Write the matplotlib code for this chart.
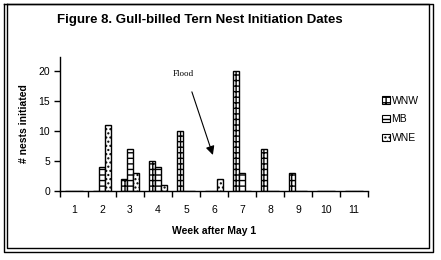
import matplotlib
matplotlib.use("Agg")
import matplotlib.pyplot as plt
import numpy as np
from matplotlib.lines import Line2D
from matplotlib.patches import Patch

weeks = ["1", "2", "3", "4", "5", "6", "7", "8", "9", "10", "11"]
wnw = [0, 0, 2, 5, 10, 0, 20, 7, 3, 0, 0]
mb = [0, 4, 7, 4, 0, 0, 3, 0, 0, 0, 0]
wne = [0, 11, 3, 1, 0, 2, 0, 0, 0, 0, 0]
series_names = ["WNW", "MB", "WNE"]
yticks = [0, 5, 10, 15, 20]

plt.rcParams['font.family'] = ['Liberation Sans', 'DejaVu Sans']
plt.rcParams['hatch.linewidth'] = 1.0

W, H = 441, 260
fig = plt.figure(figsize=(W / 100, H / 100), dpi=100)

def fx(px):
    return px / W

def fy(py):
    return 1 - py / H

ax = fig.add_axes([fx(60), fy(190.7), fx(308), (190.7 - 56.7) / H])

x = np.arange(len(weeks))
bw = 0.214
hatches = ['+++', '---', '....']
for i, (vals, hatch) in enumerate(zip([wnw, mb, wne], hatches)):
    ax.bar(x + (i - 1) * bw, vals, width=bw, color='white', edgecolor='black',
           linewidth=1.0, hatch=hatch)

ax.set_xlim(-0.5, len(weeks) - 0.5)
ax.set_ylim(0, 22.3)
ax.set_xticks(np.arange(len(weeks) + 1) - 0.5)
ax.set_xticklabels([])
ax.set_xticks(x, minor=True)
ax.set_xticklabels(weeks, minor=True, fontsize=7.5)
ax.tick_params(axis='x', which='major', direction='out', length=4, width=1)
ax.tick_params(axis='x', which='minor', length=0, pad=10)
ax.set_yticks(yticks)
ax.set_yticklabels([str(v) for v in yticks], fontsize=7.5)
ax.tick_params(axis='y', direction='out', length=4, width=1, pad=3)
for s in ['top', 'right']:
    ax.spines[s].set_visible(False)
for s in ['left', 'bottom']:
    ax.spines[s].set_linewidth(1.0)
ax.set_xlabel("Week after May 1", fontsize=7.5, fontweight='bold', labelpad=8)
ax.set_ylabel("# nests initiated", fontsize=7.5, fontweight='bold', labelpad=7)

ax.text(3.89, 19.45, "Flood", fontsize=6.5, family=['Liberation Serif'],
        ha='center', va='center')
ax.annotate('', xy=(4.96, 5.95), xytext=(4.21, 16.45),
            arrowprops=dict(arrowstyle='-|>', mutation_scale=13, lw=0.8,
                            color='black', shrinkA=0, shrinkB=0))

fig.text(fx(200), fy(20), "Figure 8. Gull-billed Tern Nest Initiation Dates",
         fontsize=9.5, fontweight='bold', ha='center', va='center')

handles = [Patch(facecolor='white', edgecolor='black', hatch=h, linewidth=0.8)
           for h in hatches]
fig.legend(handles, series_names, loc='center left',
           bbox_to_anchor=(fx(377), fy(119.5)), frameon=False, fontsize=7.5,
           handlelength=0.7, handleheight=0.7, handletextpad=0.2,
           labelspacing=0.85, borderpad=0)

def rect(x0, y0, x1, y1):
    xs = [fx(x0), fx(x1), fx(x1), fx(x0), fx(x0)]
    ys = [fy(y0), fy(y0), fy(y1), fy(y1), fy(y0)]
    fig.add_artist(Line2D(xs, ys, color='black', lw=1.0))

rect(4, 4, 433, 252)
rect(7, 4, 429, 248)

fig.savefig("out.png", dpi=100)
